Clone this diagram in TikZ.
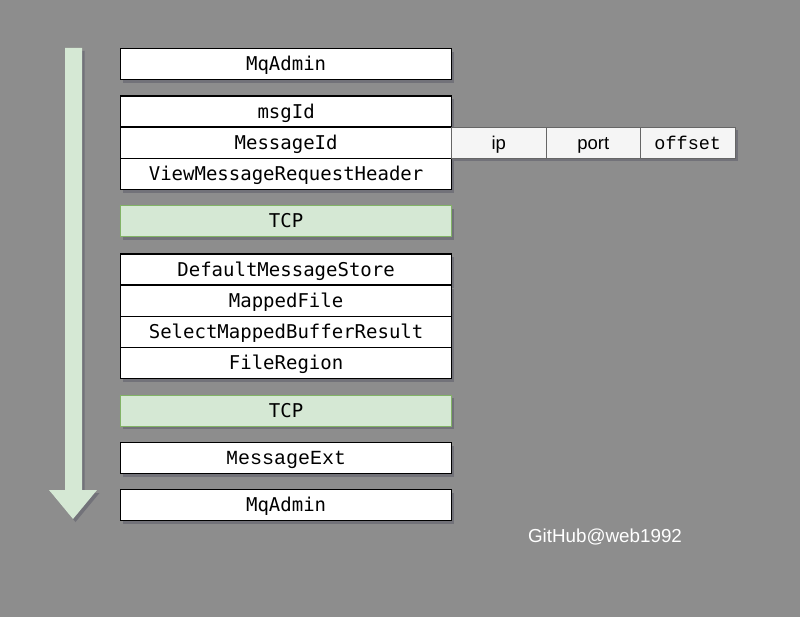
\documentclass[tikz,border=0pt]{standalone}
\usepackage{fontspec}
\setmainfont{Liberation Sans}
\setmonofont{DejaVu Sans Mono}
\newfontfamily\thinmono{Liberation Mono}
\usetikzlibrary{shadows}
\definecolor{bg}{HTML}{8D8D8D}
\definecolor{lightgreen}{HTML}{D5E8D4}
\definecolor{greenline}{HTML}{82B366}
\definecolor{lightgray}{HTML}{F5F5F5}
\definecolor{grayline}{HTML}{666666}
\definecolor{shade}{HTML}{4A4A5C}

\begin{document}
\begin{tikzpicture}[x=1pt,y=-1pt,
    shadowed/.style={drop shadow={shadow xshift=2.5pt,shadow yshift=-3pt,fill=shade,opacity=0.4}},
    box/.style={draw=black, fill=white, line width=1.2pt, anchor=north west, shadowed,
      minimum width=331pt, minimum height=31pt, inner sep=0pt,
      text height=15pt, text depth=2pt, font=\ttfamily\fontsize{19}{19}\selectfont},
    tcpbox/.style={box, draw=greenline, fill=lightgreen},
    partbox/.style={box, draw=grayline, fill=lightgray, line width=1pt, minimum width=94.5pt,
      font=\fontsize{18.5}{18.5}\selectfont}]
    \useasboundingbox (0,0) rectangle (800,617);
    \fill[bg] (0,0) rectangle (800,617);
    % flow arrow
    \fill[lightgreen, shadowed] (65,48) -- (82,48) -- (82,490) -- (97,490) -- (73,519)
      -- (49,490) -- (65,490) -- cycle;
    % request side
    \node[box] (admin) at (120,48) {MqAdmin};
    \node[box] (msgid) at (120,95.5) {msgId};
    \node[box] (messageid) at (120,127) {MessageId};
    \node[box] (header) at (120,158) {ViewMessageRequestHeader};
    \node[partbox] (ip) at (451,127) {ip};
    \node[partbox] (port) at (545.5,127) {port};
    \node[partbox, font=\thinmono\fontsize{18.5}{18.5}\selectfont] (offset) at (640,127) {offset};
    \node[tcpbox] (tcp1) at (120,205) {TCP};
    % broker side
    \node[box] (store) at (120,253.5) {DefaultMessageStore};
    \node[box] (mapped) at (120,285) {MappedFile};
    \node[box] (select) at (120,316) {SelectMappedBufferResult};
    \node[box] (region) at (120,347) {FileRegion};
    \node[tcpbox] (tcp2) at (120,394.5) {TCP};
    % back to the client
    \node[box, font=\thinmono\fontsize{20}{20}\selectfont] (ext) at (120,442) {MessageExt};
    \node[box] (admin2) at (120,489) {MqAdmin};
    \node[white, font=\fontsize{18.8}{18.8}\selectfont] (mark) at (605,537) {GitHub@web1992};
\end{tikzpicture}
\end{document}
